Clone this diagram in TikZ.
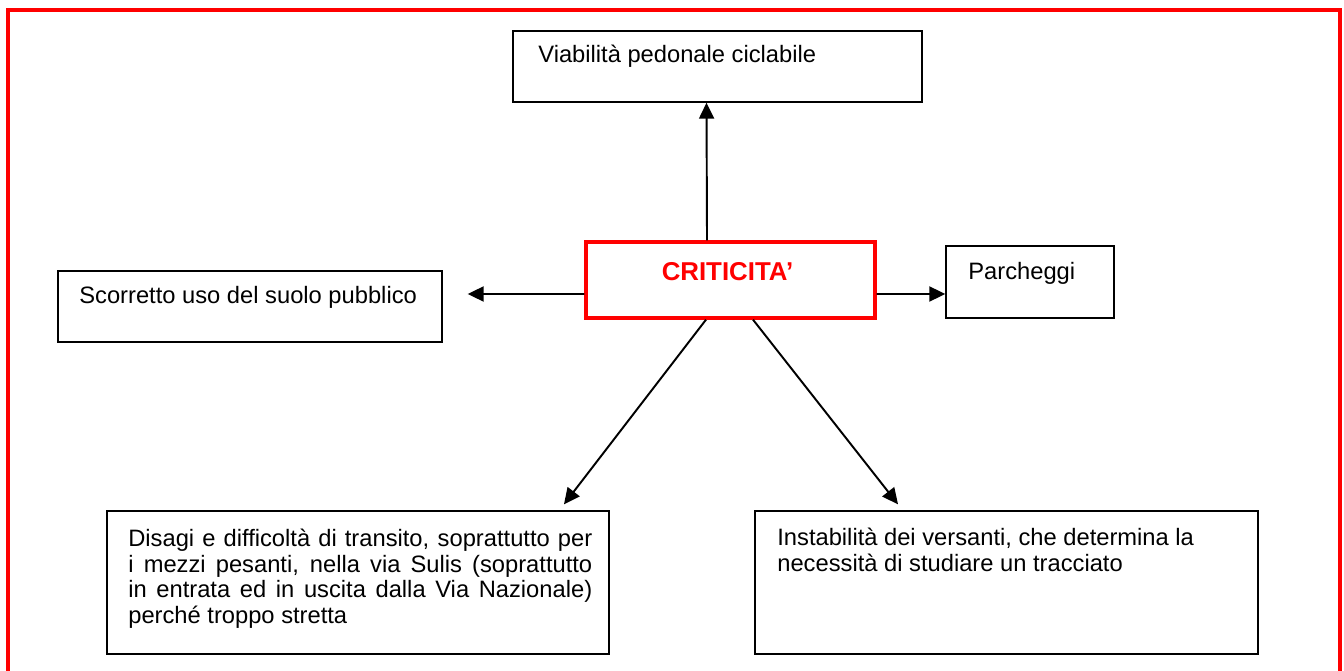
\documentclass[tikz,border=0pt]{standalone}
\usepackage{fontspec}
\setmainfont{Liberation Sans}
\usetikzlibrary{arrows.meta}
\tikzset{
  box/.style={draw, line width=0.8pt, inner sep=0pt},
  critbox/.style={draw=red, line width=1.9pt, inner sep=0pt},
  txt/.style={inner sep=0pt, font=\fontsize{13.5}{14.6}\selectfont},
  arr/.style={-{Triangle[length=0.32cm,width=0.3cm]}, line width=1.1pt},
}
\begin{document}
\begin{tikzpicture}[x=0.02cm,y=-0.02cm]
  \useasboundingbox (0,0) rectangle (1344,671);
  % red frame, open at the bottom
  \draw[red, line width=2.3pt] (8,671) -- (8,9.7) -- (1339.5,9.7) -- (1339.5,671);
  % boxes
  \node[critbox, minimum width=5.78cm, minimum height=1.52cm] (crit) at (730.5,280) {};
  \node[box, minimum width=8.18cm, minimum height=1.42cm] (viab) at (717.5,66.5) {};
  \node[box, minimum width=3.36cm, minimum height=1.44cm] (parch) at (1030,282) {};
  \node[box, minimum width=7.68cm, minimum height=1.42cm] (scorr) at (250,306.5) {};
  \node[box, minimum width=10.04cm, minimum height=2.86cm] (dis) at (358,582.5) {};
  \node[box, minimum width=10.06cm, minimum height=2.86cm] (inst) at (1006.5,582.5) {};
  % texts
  \node[inner sep=0pt, anchor=base, text=red, font=\fontsize{14.7}{17}\selectfont\bfseries] (crittxt) at (727.5,281) {CRITICITA’};
  \node[txt, anchor=base west] (viabtxt) at (538,63) {Viabilità pedonale ciclabile};
  \node[txt, anchor=base west] (scorrtxt) at (79,304) {Scorretto uso del suolo pubblico};
  \node[txt, anchor=base west] (parchtxt) at (968,280) {Parcheggi};
  \node[txt, anchor=north west, text width=9.28cm, align=justify] (distxt) at (128,528.6)
    {Disagi e difficoltà di transito, soprattutto per\linebreak i mezzi pesanti, nella via Sulis (soprattutto\linebreak in entrata ed in uscita dalla Via Nazionale)\linebreak perché troppo stretta};
  \node[txt, anchor=north west, align=left] (insttxt) at (777,527.6)
    {Instabilità dei versanti, che determina la\\necessità di studiare un tracciato};
  % arrows
  \begin{scope}[arr]
    \draw ([xshift=-0.47cm]crit.north) -- ([xshift=-0.22cm]viab.south);
    \draw ([yshift=-0.28cm]crit.west) -- ([xshift=0.5cm, yshift=0.25cm]scorr.east);
    \draw ([yshift=-0.28cm]crit.east) -- ([yshift=-0.24cm]parch.west);
    \draw ([xshift=-0.49cm]crit.south) -- ([xshift=4.12cm, yshift=0.12cm]dis.north);
    \draw ([xshift=0.45cm]crit.south) -- ([xshift=-2.17cm, yshift=0.12cm]inst.north);
  \end{scope}
\end{tikzpicture}
\end{document}
